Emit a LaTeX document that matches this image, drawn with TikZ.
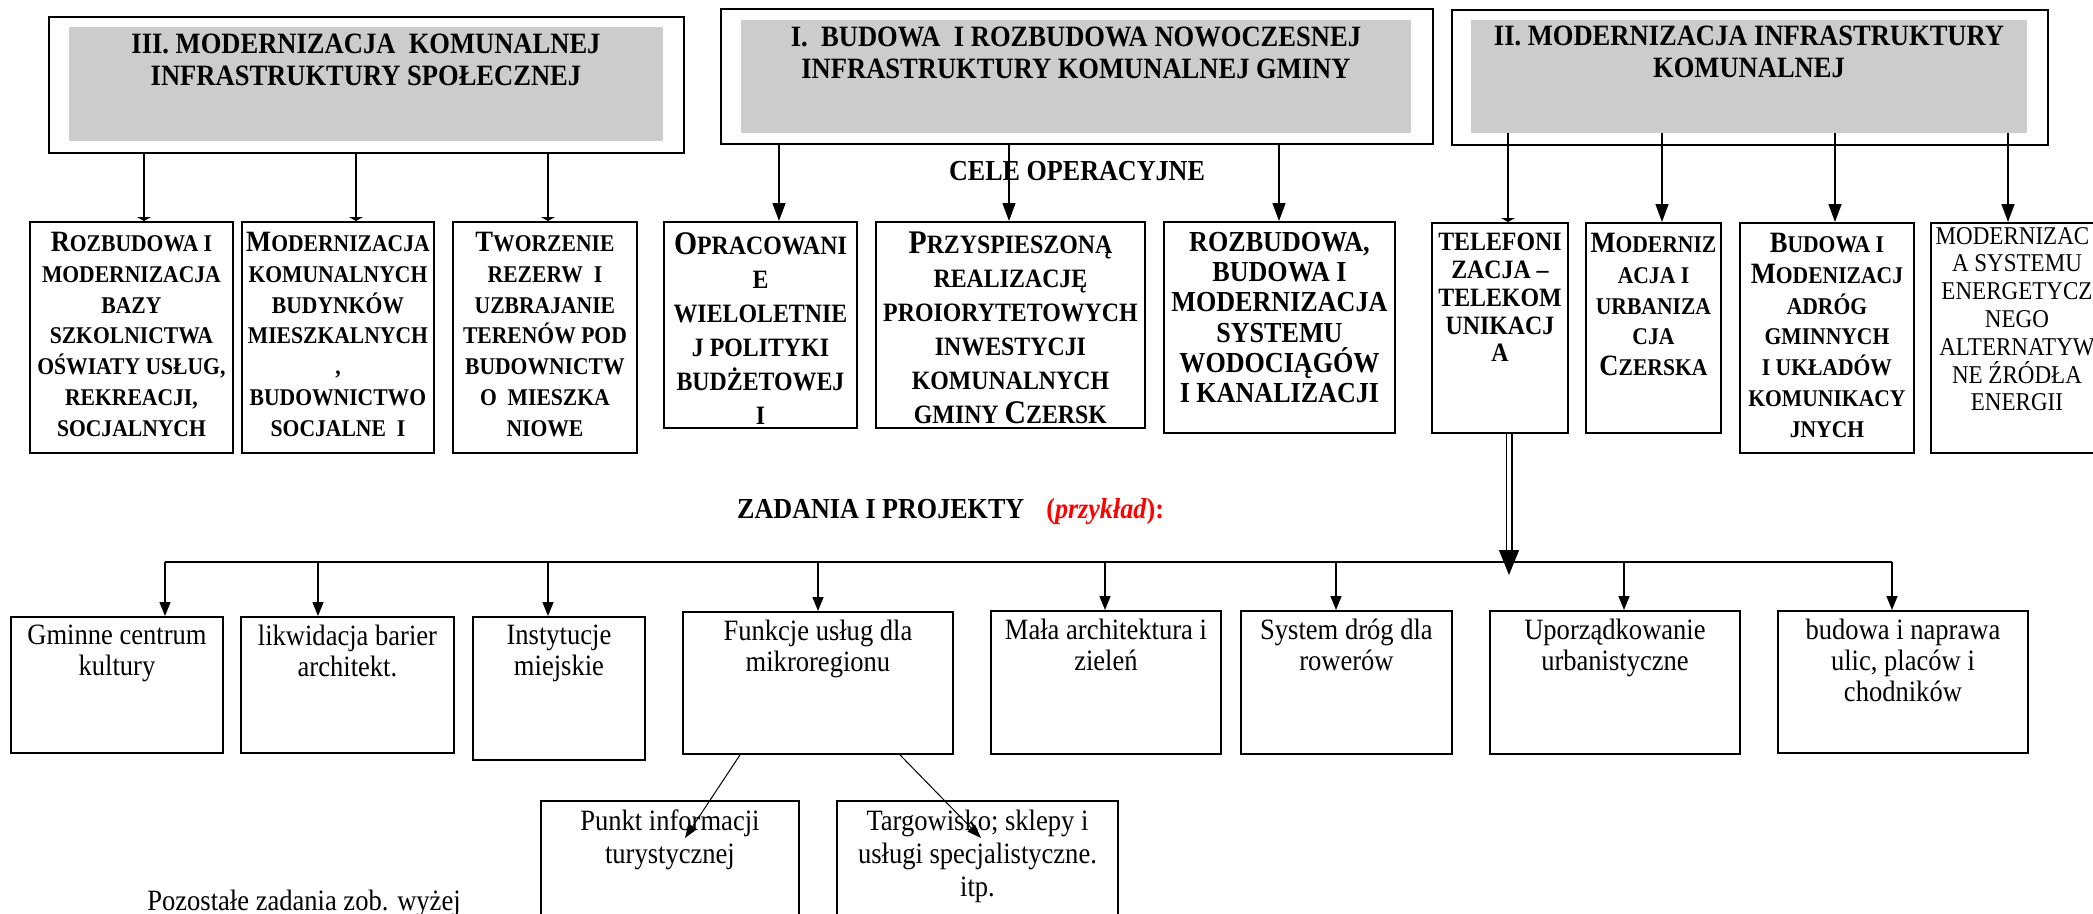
\documentclass[tikz,border=0pt]{standalone}
\usepackage{fontspec}
\setmainfont{Liberation Serif}[FakeStretch=0.9]
\usetikzlibrary{arrows.meta,calc}
\definecolor{hdrgray}{RGB}{204,204,204}
\newcommand\BigL[1]{{\fontsize{29.5pt}{\baselineskip}\selectfont #1}}
\newcommand\BigLL[1]{{\fontsize{33pt}{\baselineskip}\selectfont #1}}
\begin{document}
\begin{tikzpicture}[x=1pt,y=-1pt,
  frame/.style={draw, line width=1.9pt, inner sep=0pt, anchor=north west},
  hdrfill/.style={fill=hdrgray, inner sep=0pt, anchor=north west},
  hdrtxt/.style={inner sep=0pt, anchor=north, align=center, font=\fontsize{29.5pt}{32pt}\selectfont\bfseries},
  sctxt/.style={inner sep=0pt, anchor=north, align=center, font=\fontsize{24pt}{30.8pt}\selectfont\bfseries},
  sctxtL/.style={inner sep=0pt, anchor=north, align=center, font=\fontsize{26.5pt}{34pt}\selectfont\bfseries},
  body/.style={inner sep=0pt, anchor=north, align=center, font=\fontsize{29.5pt}{31pt}\selectfont},
  conn/.style={line width=1.4pt},
  flat/.style={conn, -{Triangle[width=14pt,length=4pt]}},
  bigarr/.style={conn, -{Triangle[width=13pt,length=18pt]}},
  smallarr/.style={conn, -{Triangle[width=11pt,length=14pt]}},
  thinarr/.style={line width=1pt, -{Triangle[width=10pt,length=14pt]}}]
\useasboundingbox (0,0) rectangle (2093,913);
\clip (0,0) rectangle (2093,913);

% ---------- header boxes ----------
\node[frame, minimum width=635pt, minimum height=136pt] (III) at (48,16) {};
\node[hdrfill, minimum width=594pt, minimum height=114pt] (IIIg) at (69,27) {};
\node[hdrtxt] (IIIt) at (366,34) {III. MODERNIZACJA\ \ KOMUNALNEJ\\INFRASTRUKTURY SPOŁECZNEJ};

\node[frame, minimum width=712pt, minimum height=135pt] (I) at (720,8) {};
\node[hdrfill, minimum width=670pt, minimum height=113pt] (Ig) at (741,20) {};
\node[hdrtxt] (It) at (1076,27) {I.\ \ BUDOWA\ \ I ROZBUDOWA NOWOCZESNEJ\\INFRASTRUKTURY KOMUNALNEJ GMINY};

\node[frame, minimum width=596pt, minimum height=135pt] (II) at (1451,9) {};
\node[hdrfill, minimum width=556pt, minimum height=113pt] (IIg) at (1471,20) {};
\node[hdrtxt] (IIt) at (1749,26) {II. MODERNIZACJA INFRASTRUKTURY\\KOMUNALNEJ};

\node[inner sep=0pt, anchor=base, font=\fontsize{29pt}{30pt}\selectfont\bfseries] (cele) at (1077,180) {CELE OPERACYJNE};

% ---------- middle row ----------
\node[frame, minimum width=203pt, minimum height=231pt] (r1) at (29,221) {};
\node[frame, minimum width=192pt, minimum height=231pt] (r2) at (241,221) {};
\node[frame, minimum width=184pt, minimum height=231pt] (r3) at (452,221) {};
\node[frame, minimum width=193pt, minimum height=206pt] (r4) at (663,221) {};
\node[frame, minimum width=269pt, minimum height=206pt] (r5) at (875,221) {};
\node[frame, minimum width=231pt, minimum height=211pt] (r6) at (1163,221) {};
\node[frame, minimum width=136pt, minimum height=210pt] (r7) at (1431,222) {};
\node[frame, minimum width=135pt, minimum height=210pt] (r8) at (1585,222) {};
\node[frame, minimum width=174pt, minimum height=230pt] (r9) at (1739,222) {};
\node[frame, minimum width=172pt, minimum height=230pt] (r10) at (1930,222) {};

\node[sctxt] (r1t) at ($(r1.north)+(0,11)$) {\BigL{R}OZBUDOWA I\\MODERNIZACJA\\BAZY\\SZKOLNICTWA\\OŚWIATY USŁUG,\\REKREACJI,\\SOCJALNYCH};
\node[sctxt] (r2t) at ($(r2.north)+(0,11)$) {\BigL{M}ODERNIZACJA\\KOMUNALNYCH\\BUDYNKÓW\\MIESZKALNYCH\\,\\BUDOWNICTWO\\SOCJALNE\ \ I};
\node[sctxt] (r3t) at ($(r3.north)+(0,11)$) {\BigL{T}WORZENIE\\REZERW\ \ I\\UZBRAJANIE\\TERENÓW POD\\BUDOWNICTW\\O\ \ MIESZKA\\NIOWE};
\node[sctxtL] (r4t) at ($(r4.north)+(0,11)$) {\BigLL{O}PRACOWANI\\E\\WIELOLETNIE\\J POLITYKI\\BUDŻETOWEJ\\I};
\node[sctxtL] (r5t) at ($(r5.north)+(0,11)$) {\BigLL{P}RZYSPIESZONĄ\\REALIZACJĘ\\PROIORYTETOWYCH\\INWESTYCJI\\KOMUNALNYCH\\GMINY \BigLL{C}ZERSK};
\node[inner sep=0pt, anchor=north, align=center, font=\fontsize{29pt}{30.2pt}\selectfont\bfseries] (r6t) at ($(r6.north)+(0,11)$) {ROZBUDOWA,\\BUDOWA I\\MODERNIZACJA\\SYSTEMU\\WODOCIĄGÓW\\I KANALIZACJI};
\node[inner sep=0pt, anchor=north, align=center, font=\fontsize{26.5pt}{27.8pt}\selectfont\bfseries] (r7t) at ($(r7.north)+(0,11)$) {TELEFONI\\ZACJA –\\TELEKOM\\UNIKACJ\\A};
\node[sctxt] (r8t) at ($(r8.north)+(0,11)$) {\BigL{M}ODERNIZ\\ACJA I\\URBANIZA\\CJA\\\BigL{C}ZERSKA};
\node[sctxt] (r9t) at ($(r9.north)+(0,11)$) {\BigL{B}UDOWA I\\\BigL{M}ODENIZACJ\\ADRÓG\\GMINNYCH\\I UKŁADÓW\\KOMUNIKACY\\JNYCH};
\node[inner sep=0pt, anchor=north, align=center, font=\fontsize{25.6pt}{27.8pt}\selectfont] (r10t) at ($(r10.north)+(0,5)$) {MODERNIZAC\phantom{J}\\A SYSTEMU\\ENERGETYCZ\\NEGO\\ALTERNATYW\\NE ŹRÓDŁA\\ENERGII};

% ---------- connectors header -> middle ----------
\coordinate (x1) at (144,0);
\coordinate (x2) at (356,0);
\coordinate (x3) at (548,0);
\coordinate (x4) at (779,0);
\coordinate (x5) at (1009,0);
\coordinate (x6) at (1279,0);
\coordinate (x7) at (1508,0);
\coordinate (x8) at (1662,0);
\coordinate (x9) at (1835,0);
\coordinate (x10) at (2008,0);
\draw[flat] (III.south -| x1) -- (r1.north -| x1);
\draw[flat] (III.south -| x2) -- (r2.north -| x2);
\draw[flat] (III.south -| x3) -- (r3.north -| x3);
\draw[bigarr] (I.south -| x4) -- (r4.north -| x4);
\draw[bigarr] (I.south -| x5) -- (r5.north -| x5);
\draw[bigarr] (I.south -| x6) -- (r6.north -| x6);
\draw[flat] (IIg.south -| x7) -- (r7.north -| x7);
\draw[bigarr] (IIg.south -| x8) -- (r8.north -| x8);
\draw[bigarr] (IIg.south -| x9) -- (r9.north -| x9);
\draw[bigarr] (IIg.south -| x10) -- (r10.north -| x10);

% ---------- zadania ----------
\node[inner sep=0pt, anchor=base west, font=\fontsize{29pt}{30pt}\selectfont\bfseries] (zad) at (737,518) {ZADANIA I PROJEKTY\hspace{22pt}{\color{red}(\textit{przykład}):}};

% ---------- bottom row ----------
\node[frame, minimum width=212pt, minimum height=136pt] (b1) at (10,616) {};
\node[frame, minimum width=213pt, minimum height=136pt] (b2) at (240,616) {};
\node[frame, minimum width=172pt, minimum height=143pt] (b3) at (472,616) {};
\node[frame, minimum width=270pt, minimum height=142pt] (b4) at (682,611) {};
\node[frame, minimum width=230pt, minimum height=143pt] (b5) at (990,610) {};
\node[frame, minimum width=211pt, minimum height=143pt] (b6) at (1240,610) {};
\node[frame, minimum width=250pt, minimum height=143pt] (b7) at (1489,610) {};
\node[frame, minimum width=250pt, minimum height=142pt] (b8) at (1777,610) {};
\node[frame, minimum width=258pt, minimum height=140pt] (s1) at (540,800) {};
\node[frame, minimum width=281pt, minimum height=140pt] (s2) at (836,800) {};

\node[body] (b1t) at ($(b1.north)+(0,9)$) {Gminne centrum\\kultury};
\node[body] (b2t) at ($(b2.north)+(0,9)$) {likwidacja barier\\architekt.};
\node[body] (b3t) at ($(b3.north)+(0,9)$) {Instytucje\\miejskie};
\node[body] (b4t) at ($(b4.north)+(0,9)$) {Funkcje usług dla\\mikroregionu};
\node[body] (b5t) at ($(b5.north)+(0,9)$) {Mała architektura i\\zieleń};
\node[body] (b6t) at ($(b6.north)+(0,9)$) {System dróg dla\\rowerów};
\node[body] (b7t) at ($(b7.north)+(0,9)$) {Uporządkowanie\\urbanistyczne};
\node[body] (b8t) at ($(b8.north)+(0,9)$) {budowa i naprawa\\ulic, placów i\\chodników};
\node[body, font=\fontsize{29.5pt}{33pt}\selectfont] (s1t) at ($(s1.north)+(0,10)$) {Punkt informacji\\turystycznej};
\node[body, font=\fontsize{29.5pt}{33pt}\selectfont] (s2t) at ($(s2.north)+(0,10)$) {Targowisko; sklepy i\\usługi specjalistyczne.\\itp.};

\node[inner sep=0pt, anchor=base, font=\fontsize{29.5pt}{31pt}\selectfont] (poz) at (304,910) {Pozostałe zadania zob. wyżej};

% ---------- bus ----------
\coordinate (d1) at (165,562);
\coordinate (d2) at (318,562);
\coordinate (d3) at (548,562);
\coordinate (d4) at (818,562);
\coordinate (d5) at (1105,562);
\coordinate (d6) at (1336,562);
\coordinate (d7) at (1624,562);
\coordinate (d8) at (1892,562);
\draw[conn] (d1) -- (d8);
\draw[smallarr] (d1) -- (b1.north -| d1);
\draw[smallarr] (d2) -- (b2.north -| d2);
\draw[smallarr] (d3) -- (b3.north -| d3);
\draw[smallarr] (d4) -- (b4.north -| d4);
\draw[smallarr] (d5) -- (b5.north -| d5);
\draw[smallarr] (d6) -- (b6.north -| d6);
\draw[smallarr] (d7) -- (b7.north -| d7);
\draw[smallarr] (d8) -- (b8.north -| d8);

% double connector from TELEFONIZACJA
\coordinate (dbl) at (1509,550);
\coordinate (dtip) at (1509,575);
\draw[line width=1.3pt, double distance=4.4pt] (r7.south -| dbl) -- (dbl);
\draw[line width=1.3pt, -{Triangle[width=20pt,length=25pt]}] (dbl) -- (dtip);

% Funkcje -> sub tasks
\draw[thinarr] ($(b4.south west)+(58,0)$) -- ($(s1.north west)+(145,38)$);
\draw[thinarr] ($(b4.south west)+(218,0)$) -- ($(s2.north west)+(145,38)$);
\end{tikzpicture}
\end{document}
